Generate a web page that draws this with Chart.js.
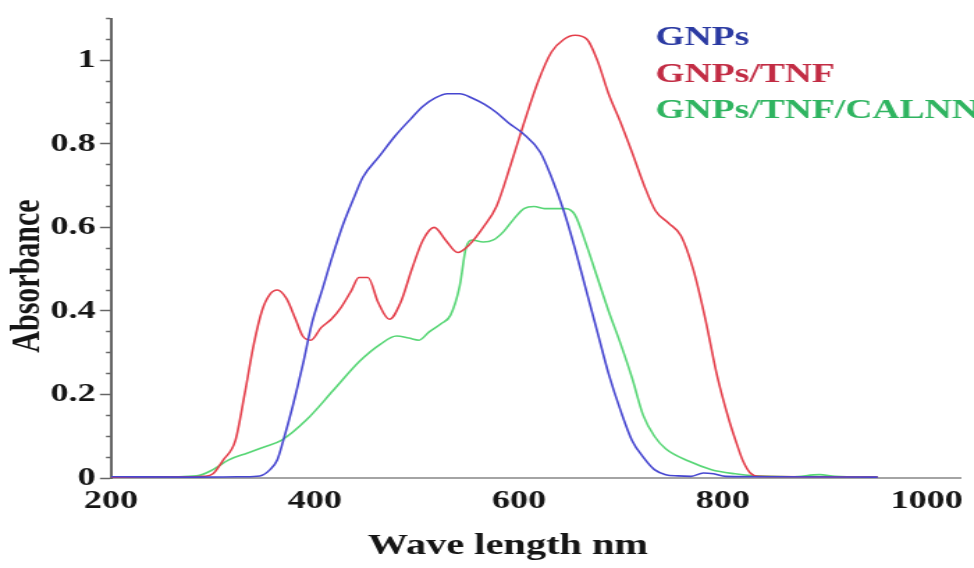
<!DOCTYPE html>
<html>
<head>
<meta charset="utf-8">
<script src="https://cdn.jsdelivr.net/npm/chart.js@4.4.1/dist/chart.umd.min.js"></script>
<style>
  html, body { margin: 0; padding: 0; background: #fff; overflow: hidden; }
  /* the original figure is stretched sideways, so draw narrow and widen it */
  #caixa { width: 700px; height: 568px; transform: scaleX(1.3914); transform-origin: 0 0; }
</style>
</head>
<body>
<div id="caixa"><canvas id="grafico"></canvas></div>
<script>
const series = ["GNPs", "GNPs/TNF", "GNPs/TNF/CALNN"];
const xTicks = [200, 400, 600, 800, 1000];
const yTicks = [0, 0.2, 0.4, 0.6, 0.8, 1];

// GNPs
const gnpsX = [200, 280, 330, 346, 356, 363, 369, 378, 388, 397, 407, 417, 428, 438, 447, 463, 479, 494, 506, 518, 530, 542, 554, 566, 578, 590, 604, 621, 632, 644, 655, 666, 677, 688, 700, 711, 722, 733, 744, 756, 769, 781, 791, 803, 850, 952];
const gnpsY = [0.003, 0.002, 0.003, 0.005, 0.02, 0.043, 0.09, 0.17, 0.27, 0.37, 0.45, 0.53, 0.61, 0.67, 0.72, 0.77, 0.82, 0.86, 0.89, 0.91, 0.92, 0.92, 0.91, 0.895, 0.875, 0.85, 0.825, 0.78, 0.72, 0.64, 0.55, 0.45, 0.35, 0.25, 0.16, 0.09, 0.05, 0.02, 0.008, 0.005, 0.004, 0.012, 0.01, 0.004, 0.003, 0.002];

// GNPs/TNF
const tnfX = [200, 280, 291, 300, 310, 322, 331, 340, 348, 356, 363, 372, 381, 388, 396, 406, 416, 426, 436, 443, 452, 462, 473, 484, 495, 506, 517, 528, 540, 552, 565, 578, 592, 605, 619, 632, 644, 655, 667, 677, 688, 700, 711, 723, 734, 747, 759, 771, 783, 794, 806, 814, 820, 827, 835, 900, 952];
const tnfY = [0.002, 0.003, 0.004, 0.01, 0.043, 0.09, 0.2, 0.32, 0.4, 0.44, 0.45, 0.43, 0.38, 0.34, 0.33, 0.36, 0.38, 0.41, 0.45, 0.48, 0.48, 0.42, 0.38, 0.42, 0.5, 0.57, 0.6, 0.57, 0.54, 0.56, 0.6, 0.65, 0.75, 0.85, 0.95, 1.02, 1.05, 1.06, 1.05, 1.0, 0.92, 0.85, 0.78, 0.7, 0.64, 0.61, 0.58, 0.5, 0.38, 0.25, 0.14, 0.08, 0.04, 0.012, 0.004, 0.003, 0.002];

// GNPs/TNF/CALNN
const calnnX = [200, 242, 284, 300, 315, 334, 351, 367, 392, 418, 444, 464, 480, 492, 502, 512, 524, 533, 542, 548, 554, 565, 575, 585, 595, 605, 615, 625, 636, 646, 655, 666, 677, 688, 700, 711, 722, 733, 744, 767, 789, 812, 831, 868, 895, 910, 952];
const calnnY = [0.002, 0.002, 0.005, 0.02, 0.043, 0.06, 0.075, 0.09, 0.14, 0.21, 0.28, 0.32, 0.34, 0.335, 0.33, 0.35, 0.37, 0.39, 0.46, 0.55, 0.57, 0.565, 0.57, 0.59, 0.62, 0.645, 0.65, 0.645, 0.645, 0.645, 0.63, 0.56, 0.48, 0.4, 0.32, 0.24, 0.15, 0.1, 0.07, 0.04, 0.02, 0.01, 0.005, 0.003, 0.008, 0.004, 0.002];

const lineColors = ["#4646d0", "#e43e4a", "#58d676"];
const textColors = ["#2b3aa2", "#c22c44", "#2fb460"];

const fonte = "'Liberation Serif', 'Times New Roman', serif";

// marcas pequenas no eixo y a cada 0.05
const yMarcas = [];
for (let i = 0; i <= 22; i++) yMarcas.push(Math.round(i * 5) / 100);

function pontos(xs, ys) {
  return xs.map((x, i) => ({ x: x, y: ys[i] }));
}

function ehMaior(v) {
  return yTicks.includes(Math.round(v * 100) / 100);
}

// legenda e titulos dos eixos desenhados na posicao do original
const textos = {
  id: "textos",
  afterDraw(chart) {
    const ctx = chart.ctx;
    ctx.save();
    ctx.textBaseline = "middle";
    ctx.textAlign = "left";
    ctx.font = "bold 27px " + fonte;
    const linhas = [38, 75, 111];
    chart.data.datasets.forEach((ds, i) => {
      ctx.fillStyle = textColors[i];
      ctx.fillText(ds.label, 471, linhas[i]);
    });

    ctx.fillStyle = "#151515";
    ctx.textAlign = "center";
    ctx.font = "bold 29px " + fonte;
    ctx.fillText("Wave length nm", 365, 547);

    ctx.translate(20, 276);
    ctx.rotate(-Math.PI / 2);
    ctx.font = "bold 30px " + fonte;
    ctx.fillText("Absorbance", 0, 0);
    ctx.restore();
  }
};

const ctx = document.getElementById("grafico").getContext("2d");

new Chart(ctx, {
  type: "line",
  data: {
    datasets: [
      { label: series[0], data: pontos(gnpsX, gnpsY) },
      { label: series[1], data: pontos(tnfX, tnfY) },
      { label: series[2], data: pontos(calnnX, calnnY) }
    ].map((ds, i) => Object.assign(ds, {
      borderColor: lineColors[i],
      borderWidth: 1.6,
      pointRadius: 0,
      fill: false,
      cubicInterpolationMode: "monotone"
    }))
  },
  options: {
    responsive: true,
    maintainAspectRatio: false,
    animation: false,
    layout: { padding: { top: 15, right: 0, bottom: 0, left: 0 } },
    plugins: {
      legend: { display: false },
      tooltip: { enabled: false }
    },
    scales: {
      x: {
        type: "linear",
        min: 200,
        max: 1034,
        afterBuildTicks: (scale) => {
          scale.ticks = xTicks.map(v => ({ value: v }));
        },
        afterFit: (scale) => { scale.height = 90; },
        ticks: {
          autoSkip: false,
          padding: 8,
          color: "#151515",
          font: { family: fonte, size: 26, weight: "bold" },
          maxRotation: 0,
          callback: (v) => String(v)
        },
        grid: { display: false, drawTicks: false },
        border: { color: "#a4a4a4", width: 2 }
      },
      y: {
        min: 0,
        max: 1.1,
        afterBuildTicks: (scale) => {
          scale.ticks = yMarcas.map(v => ({ value: v }));
        },
        afterFit: (scale) => { scale.width = 79.8; },
        ticks: {
          autoSkip: false,
          padding: 3,
          color: "#151515",
          font: { family: fonte, size: 26, weight: "bold" },
          callback: (v) => ehMaior(v) ? String(Math.round(v * 100) / 100) : ""
        },
        grid: {
          drawOnChartArea: false,
          drawTicks: true,
          tickLength: 8,
          color: "#666",
          tickWidth: 1.5,
          tickBorderDash: (c) => ehMaior(c.tick.value) ? [] : [0, 4.4, 20]
        },
        border: { color: "#666", width: 2 }
      }
    }
  },
  plugins: [textos]
});
</script>
</body>
</html>
